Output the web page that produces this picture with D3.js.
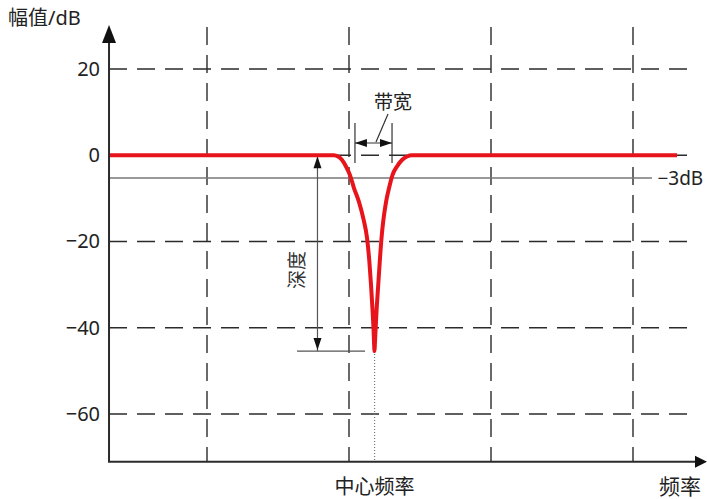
<!DOCTYPE html>
<html><head><meta charset="utf-8">
<script src="https://cdn.jsdelivr.net/npm/d3@7"></script>
<style>
html,body{margin:0;padding:0;background:#fff;}
svg{display:block;font-family:"Noto Sans","Noto Sans CJK SC",sans-serif;}
</style></head>
<body>
<svg id="c" width="707" height="499"></svg>
<script>
// ---- data ----
const yTicks = [20, 0, -20, -40, -60];
const xGrid = [100, 200, 300, 400];
const freq = [31, 189.4, 192.3, 195.1, 197.9, 200.7, 203.5, 207.0, 210.2, 212.7, 214.3, 215.5, 216.5, 217.3, 217.7, 218.0,
              218.2, 218.7, 219.5, 220.6, 221.7, 222.9, 224.3, 226.1, 228.2, 230.6, 233.8, 237.3, 240.8, 244.4, 431];
const gain = [0, 0, -0.3, -1.1, -2.6, -4.6, -7.6, -10.8, -14.8, -19.2, -24.5, -30, -35.5, -40.5, -44, -45.4,
              -44, -40.5, -35.5, -30, -24.5, -19.2, -14.8, -10.8, -7.6, -4.6, -2.6, -1.1, -0.3, 0, 0];
const centerFreq = 218;
const minGain = -45.4;
const refLevel = -5.3;          // drawn level of the "-3dB" line
const refLabel = "\u22123dB";
const bwLow = 204.2, bwHigh = 230.3;
const depthFreq = 177.8, depthTickFrom = 163.4, depthTickTo = 211.3;
const labels = {y: "幅值/dB", x: "频率", center: "中心频率", bw: "带宽", depth: "深度"};

// ---- scales ----
const svg = d3.select("#c");
const x = d3.scaleLinear().domain([100, 400]).range([207, 633]);
const y = d3.scaleLinear().domain([20, -60]).range([69, 414]);
const x0 = x(31), xEnd = x(442), yTop = y(30.2), yBot = y(-71.1);
const ink = "#2b2b2b";

// grid
svg.append("g").selectAll("line").data(yTicks).join("line")
  .attr("x1", x0).attr("x2", xEnd).attr("y1", d => y(d)).attr("y2", d => y(d))
  .attr("stroke", ink).attr("stroke-width", 1.4).attr("stroke-dasharray", "18,10");
svg.append("g").selectAll("line").data(xGrid).join("line")
  .attr("x1", d => x(d)).attr("x2", d => x(d)).attr("y1", yTop + 2).attr("y2", yBot)
  .attr("stroke", ink).attr("stroke-width", 1.4).attr("stroke-dasharray", "18,10");

// -3dB reference line
svg.append("line").attr("x1", x0).attr("x2", x(413.4)).attr("y1", y(refLevel)).attr("y2", y(refLevel))
  .attr("stroke", "#777").attr("stroke-width", 1.5);
svg.append("text").attr("x", x(417.2)).attr("y", y(refLevel)).attr("dy", "0.35em")
  .attr("font-size", 19).attr("fill", "#222").text(refLabel);

// dotted centre line
svg.append("line").attr("x1", x(centerFreq)).attr("x2", x(centerFreq))
  .attr("y1", y(minGain)).attr("y2", yBot)
  .attr("stroke", "#777").attr("stroke-width", 1.2).attr("stroke-dasharray", "1,2");

// bandwidth annotation
const ann = "#333";
[bwLow, bwHigh].forEach(f => {
  svg.append("line").attr("x1", x(f)).attr("x2", x(f)).attr("y1", 123).attr("y2", y(-1.8))
    .attr("stroke", ann).attr("stroke-width", 1.2);
});
const ay = 143;
svg.append("line").attr("x1", x(bwLow)).attr("x2", x(bwHigh)).attr("y1", ay).attr("y2", ay)
  .attr("stroke", ann).attr("stroke-width", 1.2);
function tri(tx, ty, dir, len, hw) { // dir: 'l','r','u','d'
  let p;
  if (dir === 'l') p = [[tx, ty], [tx + len, ty - hw], [tx + len, ty + hw]];
  if (dir === 'r') p = [[tx, ty], [tx - len, ty - hw], [tx - len, ty + hw]];
  if (dir === 'u') p = [[tx, ty], [tx - hw, ty + len], [tx + hw, ty + len]];
  if (dir === 'd') p = [[tx, ty], [tx - hw, ty - len], [tx + hw, ty - len]];
  return "M" + p.map(q => q.join(",")).join("L") + "Z";
}
svg.append("path").attr("d", tri(x(bwLow), ay, 'l', 12, 4)).attr("fill", "#111");
svg.append("path").attr("d", tri(x(bwHigh), ay, 'r', 12, 4)).attr("fill", "#111");
svg.append("line").attr("x1", 376).attr("y1", ay - 1).attr("x2", 388).attr("y2", 114)
  .attr("stroke", ann).attr("stroke-width", 1.2);
svg.append("text").attr("x", 393).attr("y", 102).attr("dy", "0.35em").attr("text-anchor", "middle")
  .attr("font-size", 19).attr("fill", "#222").text(labels.bw);

// depth annotation
svg.append("line").attr("x1", x(depthTickFrom)).attr("x2", x(depthTickTo))
  .attr("y1", y(minGain)).attr("y2", y(minGain)).attr("stroke", "#555").attr("stroke-width", 1.2);
svg.append("line").attr("x1", x(depthFreq)).attr("x2", x(depthFreq))
  .attr("y1", y(0)).attr("y2", y(minGain)).attr("stroke", "#555").attr("stroke-width", 1.2);
svg.append("path").attr("d", tri(x(depthFreq), y(0) + 1, 'u', 12, 4)).attr("fill", "#111");
svg.append("path").attr("d", tri(x(depthFreq), y(minGain) - 1, 'd', 12, 4)).attr("fill", "#111");
svg.append("text").attr("transform", `translate(297,270) rotate(-90)`).attr("dy", "0.35em")
  .attr("text-anchor", "middle").attr("font-size", 19).attr("fill", "#333").text(labels.depth);

// curve
const line = d3.line().x((d, i) => x(freq[i])).y((d, i) => y(gain[i])).curve(d3.curveMonotoneX);
svg.append("path").datum(freq).attr("d", line).attr("fill", "none")
  .attr("stroke", "#e8141c").attr("stroke-width", 4).attr("stroke-linejoin", "round");

// axes
svg.append("line").attr("x1", x0).attr("x2", x0).attr("y1", yBot).attr("y2", yTop + 16)
  .attr("stroke", ink).attr("stroke-width", 2);
svg.append("path").attr("d", tri(x0, yTop, 'u', 18, 7)).attr("fill", "#111");
svg.append("line").attr("x1", x0 - 1).attr("x2", 697).attr("y1", yBot).attr("y2", yBot)
  .attr("stroke", ink).attr("stroke-width", 2);
svg.append("path").attr("d", tri(707, yBot, 'r', 12, 6)).attr("fill", "#111");

const yAxis = d3.axisLeft(y).tickValues(yTicks).tickSize(0).tickPadding(9);
const ga = svg.append("g").attr("transform", `translate(${x0},0)`).call(yAxis);
ga.select(".domain").remove();
ga.selectAll("text").attr("font-size", 20).attr("fill", "#222")
  .attr("font-family", "'Noto Sans','Noto Sans CJK SC',sans-serif");

// labels
svg.append("text").attr("x", 8).attr("y", 18).attr("dy", "0.35em").attr("font-size", 20)
  .attr("fill", "#222").text(labels.y);
svg.append("text").attr("x", x(centerFreq)).attr("y", 487).attr("dy", "0.35em").attr("text-anchor", "middle")
  .attr("font-size", 20).attr("fill", "#222").text(labels.center);
svg.append("text").attr("x", 680).attr("y", 487).attr("dy", "0.35em").attr("text-anchor", "middle")
  .attr("font-size", 21).attr("fill", "#222").text(labels.x);
</script>
</body></html>
